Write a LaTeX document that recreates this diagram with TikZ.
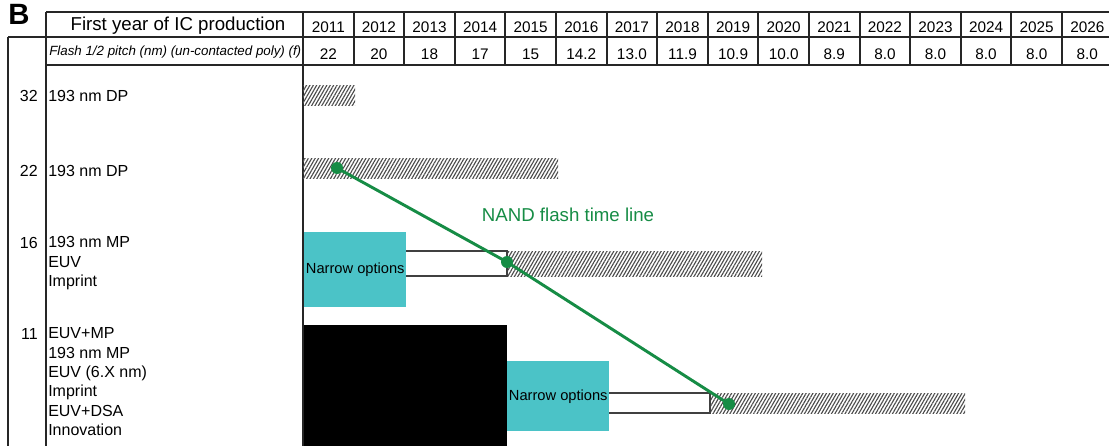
\documentclass[tikz,border=0pt]{standalone}
\usepackage{fontspec}
\setmainfont{Liberation Sans}
\usetikzlibrary{patterns.meta}
\newlength\pxu
\setlength\pxu{0.75pt}
\definecolor{nandgreen}{HTML}{168C45}
\definecolor{optcyan}{HTML}{4BC3C7}
\tikzset{
  rule/.style={line width=1.4pt, draw=black!85},
  hatchbar/.style={pattern={Lines[angle=60,distance=2.2pt,line width=0.85pt]}, pattern color=black!70},
  openbar/.style={draw=black!75, line width=0.9pt, fill=white},
  optbox/.style={fill=optcyan, inner sep=0pt, minimum width=102\pxu, font=\fontsize{11}{13}\selectfont},
  nanddot/.style={circle, fill=nandgreen, inner sep=0pt, minimum size=12\pxu},
  txt/.style={font=\fontsize{12}{14.5}\selectfont, inner sep=0pt, align=left},
}
\begin{document}
\begin{tikzpicture}[x=\pxu, y=-\pxu]
    \useasboundingbox (0,0) rectangle (1109,446);

    % borders
    \draw[rule] (46,12) -- (1112,12);
    \draw[rule] (8,37) -- (1112,37);
    \draw[rule] (46,65) -- (1112,65);
    \draw[rule] (8,37) -- (8,446);
    \draw[rule] (46,12) -- (46,446);
    \draw[rule] (303,12) -- (303,446);

    % year column dividers
    \foreach \i in {1,...,16} {
      \pgfmathsetmacro\nx{303+\i*50.6}
      \draw[rule] (\nx,12) -- (\nx,65);
    }

    % header texts
    \node[font=\bfseries\fontsize{22}{22}\selectfont, anchor=base west, inner sep=0pt] (panel) at (8,24) {B};
    \node[font=\fontsize{14}{16}\selectfont, anchor=base, inner sep=0pt] (yearlbl) at (178,31) {First year of IC production};
    \node[font=\itshape\fontsize{10}{12}\selectfont, anchor=base west, inner sep=0pt] (pitchlbl) at (49,55) {Flash 1/2 pitch (nm) (un-contacted poly) (f)};

    % years and pitch values
    \foreach \i/\yr/\pv in {0/2011/22,1/2012/20,2/2013/18,3/2014/17,4/2015/15,5/2016/14.2,6/2017/13.0,7/2018/11.9,
                            8/2019/10.9,9/2020/10.0,10/2021/8.9,11/2022/8.0,12/2023/8.0,13/2024/8.0,14/2025/8.0,15/2026/8.0} {
      \pgfmathsetmacro\nx{303+(\i+0.5)*50.6}
      \node[font=\fontsize{11.5}{13}\selectfont, anchor=base, inner sep=0pt] (yr\i) at (\nx,32) {\yr};
      \node[font=\fontsize{11.5}{13}\selectfont, anchor=base, inner sep=0pt] (pv\i) at (\nx,59) {\pv};
    }

    % node sizes and options
    \foreach \y/\nm in {101/32,176/22,248/16,339/11} {
      \node[txt, anchor=base east] (hp\nm) at (38,\y) {\nm};
    }
    \node[txt, anchor=base west] (opt32) at (48,101) {193 nm DP};
    \node[txt, anchor=base west] (opt22) at (48,176) {193 nm DP};
    \node[txt, anchor=north west] (opt16) at (48,236.5) {193 nm MP\\ EUV\\ Imprint};
    \node[txt, anchor=north west] (opt11) at (48,327.5) {EUV+MP\\ 193 nm MP\\ EUV (6.X nm)\\ Imprint\\ EUV+DSA\\ Innovation};

    % bars
    \path[hatchbar] (303,85) rectangle (355,105);
    \path[hatchbar] (303,158) rectangle (558,178);
    \path[hatchbar] (507,251) rectangle (762,276);
    \path[hatchbar] (710,393) rectangle (965,413);
    \draw[openbar] (405,251) rectangle (507,276);
    \draw[openbar] (608,393) rectangle (710,413);
    \fill[black] (304,325) rectangle (507,446);

    % narrow options
    \node[optbox, minimum height=75\pxu, anchor=north west] (narrow16) at (304,232) {Narrow options};
    \node[optbox, minimum height=70\pxu, anchor=north west] (narrow11) at (507,361) {Narrow options};

    % NAND flash time line
    \node[nanddot] (d1) at (337,168) {};
    \node[nanddot] (d2) at (507,262) {};
    \node[nanddot] (d3) at (729,404) {};
    \draw[nandgreen, line width=2.2pt] (d1.center) -- (d2.center) -- (d3.center);
    \node[text=nandgreen, font=\fontsize{14}{16}\selectfont, inner sep=0pt] (nandlbl) at (568,215) {NAND flash time line};
  \end{tikzpicture}
\end{document}
